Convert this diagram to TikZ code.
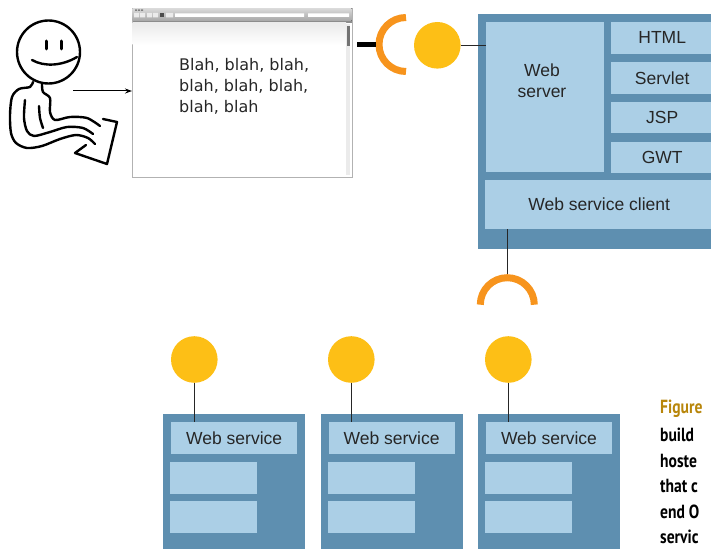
\documentclass[tikz,border=0pt]{standalone}
\usepackage{fontspec}
\setmainfont{DejaVu Sans}
\newfontfamily\handfont{Liberation Sans}
\newfontfamily\capfont[FakeStretch=0.82]{PT Sans}
\usetikzlibrary{arrows.meta}
\usetikzlibrary{positioning}

\definecolor{srvblue}{RGB}{94,143,176}
\definecolor{panelblue}{RGB}{171,207,230}
\definecolor{ballyellow}{RGB}{253,191,22}
\definecolor{socketorange}{RGB}{247,148,29}
\definecolor{figgold}{RGB}{184,134,11}

\begin{document}
\begin{tikzpicture}[x=1pt,y=-1pt,
        every node/.style={inner sep=0pt},
        hostbox/.style={fill=srvblue, anchor=north west},
        panel/.style={fill=panelblue, anchor=north west, text=black!85,
            font=\handfont\fontsize{17.5}{21}\selectfont},
        tech/.style={panel, minimum width=102pt, minimum height=31.5pt},
        spare/.style={fill=panelblue, anchor=north west, minimum width=87pt, minimum height=32pt},
        svc/.style={panel, minimum width=126pt, minimum height=32pt},
        ball/.style={circle, fill=ballyellow, minimum size=46.6pt},
        socket/.style={draw=socketorange, line width=7pt},
        wire/.style={draw=black!85, line width=1.4pt},
        sketch/.style={line width=2.4pt, line cap=round, line join=round}]
        \useasboundingbox (0,0) rectangle (711,548);

        % browser window
        \node[draw=black!30, fill=white, anchor=north west, minimum width=220pt, minimum height=169pt] (browser) at (132,8) {};
        \fill[top color=black!15, bottom color=black!35] (132.5,8.5) rectangle (351.5,21);
        \fill[black!45] (132.5,21) rectangle (351.5,23);
        \fill[black!50] (135,9.5) rectangle (137,11) (138,9.5) rectangle (140,11) (141,9.5) rectangle (143,11);
        \fill[black!8] (134,13) rectangle (139,17.5) (140,13) rectangle (145,17.5) (147,13) rectangle (152,17.5) (153,13) rectangle (158,17.5) (166,13) rectangle (173,17.5);
        \fill[black!70] (160,13) rectangle (164,17.5);
        \fill[white] (175,13.5) rectangle (304,17) (308,13.5) rectangle (349,17);
        \fill[top color=black!8, bottom color=white] (132.5,23) rectangle (346,45);
        \fill[black!8] (346,24) rectangle (350,175);
        \fill[black!55] (346.5,26) rectangle (349.5,46);
        \node[anchor=north west, align=left, text=black!85,
            font=\fontsize{16}{21}\selectfont] (blah) at (179,58.5) {Blah, blah, blah,\\blah, blah, blah,\\blah, blah};

        % user at the keyboard
        \draw[sketch] (48.5,52) circle[radius=31.5pt];
        \draw[sketch, line width=3pt] (46.7,41) -- (46.7,49) (61.7,41) -- (61.7,49);
        \draw[sketch] (32,60) .. controls (44,67) and (62,66) .. (77,57);
        \draw[sketch] plot[smooth] coordinates {(33,82) (30,87) (19,89) (12,97) (10,115) (11,133) (16,143) (27,148) (42,146) (60,139) (76,135) (88,138) (95,144)};
        \draw[sketch] plot[smooth] coordinates {(25,100) (24,118) (27,131) (34,136) (50,132) (67,127) (83,128) (93,134)};
        \draw[sketch] plot[smooth] coordinates {(42,84) (43,92) (50,98) (50,112) (55,120) (70,117) (87,118) (100,126)};
        \draw[sketch] plot[smooth] coordinates {(39,106) (40,118) (43,128)};
        \draw[sketch] (103,119) -- (117,122) -- (107,164) -- (75,153) -- (86,145);
        \coordinate (user) at (73,91);
        \draw[-{Stealth[length=7pt,width=5pt]}, line width=1pt] (user) -- (user -| browser.west);

        % server with its panels
        \node[hostbox, minimum width=241pt, minimum height=235pt] (server) at (478,14) {};
        \node[fill=panelblue, anchor=north west, minimum width=118pt, minimum height=150pt] (websrv) at (486,22) {};
        \node[align=center, text=black!85, font=\handfont\fontsize{17.5}{21}\selectfont] (websrvtext) at (542,81) {Web\\server};
        \node[tech] (html) at (611,22) {HTML};
        \node[tech, below=8pt of html] (servlet) {Servlet};
        \node[tech, below=8pt of servlet] (jsp) {JSP};
        \node[tech, below=8pt of jsp] (gwt) {GWT};
        \node[panel, minimum width=228pt, minimum height=49pt] (client) at (485,180) {Web service client};

        % offered interface of the web server
        \node[ball] (webball) at (437.3,45.3) {};
        \draw[wire] (webball) -- (webball -| websrv.west);
        \coordinate (websock) at (406,44.5);
        \draw[socket] ([yshift=27pt]websock) arc[start angle=90, end angle=270, radius=27pt];
        \draw[line width=5pt] ([xshift=5pt]browser.east |- websock) -- ([xshift=-30pt]websock);

        % required interface of the client
        \coordinate (clientsock) at (507.3,304.7);
        \draw[socket] ([xshift=27pt]clientsock) arc[start angle=0, end angle=180, radius=27pt];
        \draw[wire] (clientsock |- client.south) -- ([yshift=30.5pt]clientsock);

        % hosted web services
        \node[hostbox, minimum width=142pt, minimum height=140pt] (host1) at (163,414) {};
        \node[hostbox, minimum width=142pt, minimum height=140pt, right=15pt of host1] (host2) {};
        \node[hostbox, minimum width=142pt, minimum height=140pt, right=15pt of host2] (host3) {};
        \node[svc, below right=8pt and 8pt of host1.north west] (svc1) {Web service};
        \node[svc, below right=8pt and 8pt of host2.north west] (svc2) {Web service};
        \node[svc, below right=8pt and 8pt of host3.north west] (svc3) {Web service};
        \node[spare, below right=48pt and 7pt of host1.north west] (spare1a) {};
        \node[spare, below right=87pt and 7pt of host1.north west] (spare1b) {};
        \node[spare, below right=48pt and 7pt of host2.north west] (spare2a) {};
        \node[spare, below right=87pt and 7pt of host2.north west] (spare2b) {};
        \node[spare, below right=48pt and 7pt of host3.north west] (spare3a) {};
        \node[spare, below right=87pt and 7pt of host3.north west] (spare3b) {};
        \node[ball] (ball1) at (194.3,359.5) {};
        \node[ball] (ball2) at (351.3,359.5) {};
        \node[ball] (ball3) at (508.3,359.5) {};
        \draw[wire] (ball1) -- (ball1 |- svc1.north);
        \draw[wire] (ball2) -- (ball2 |- svc2.north);
        \draw[wire] (ball3) -- (ball3 |- svc3.north);

        % caption
        \node[anchor=base west, text=figgold, font=\capfont\bfseries\fontsize{19}{25.5}\selectfont] (figname) at (660,413) {Figure};
        \node[anchor=north west, align=left, font=\capfont\bfseries\fontsize{19}{25.5}\selectfont] (figtext) at (660,428) {build\\hoste\\that c\\end O\\servic};
\end{tikzpicture}
\end{document}
